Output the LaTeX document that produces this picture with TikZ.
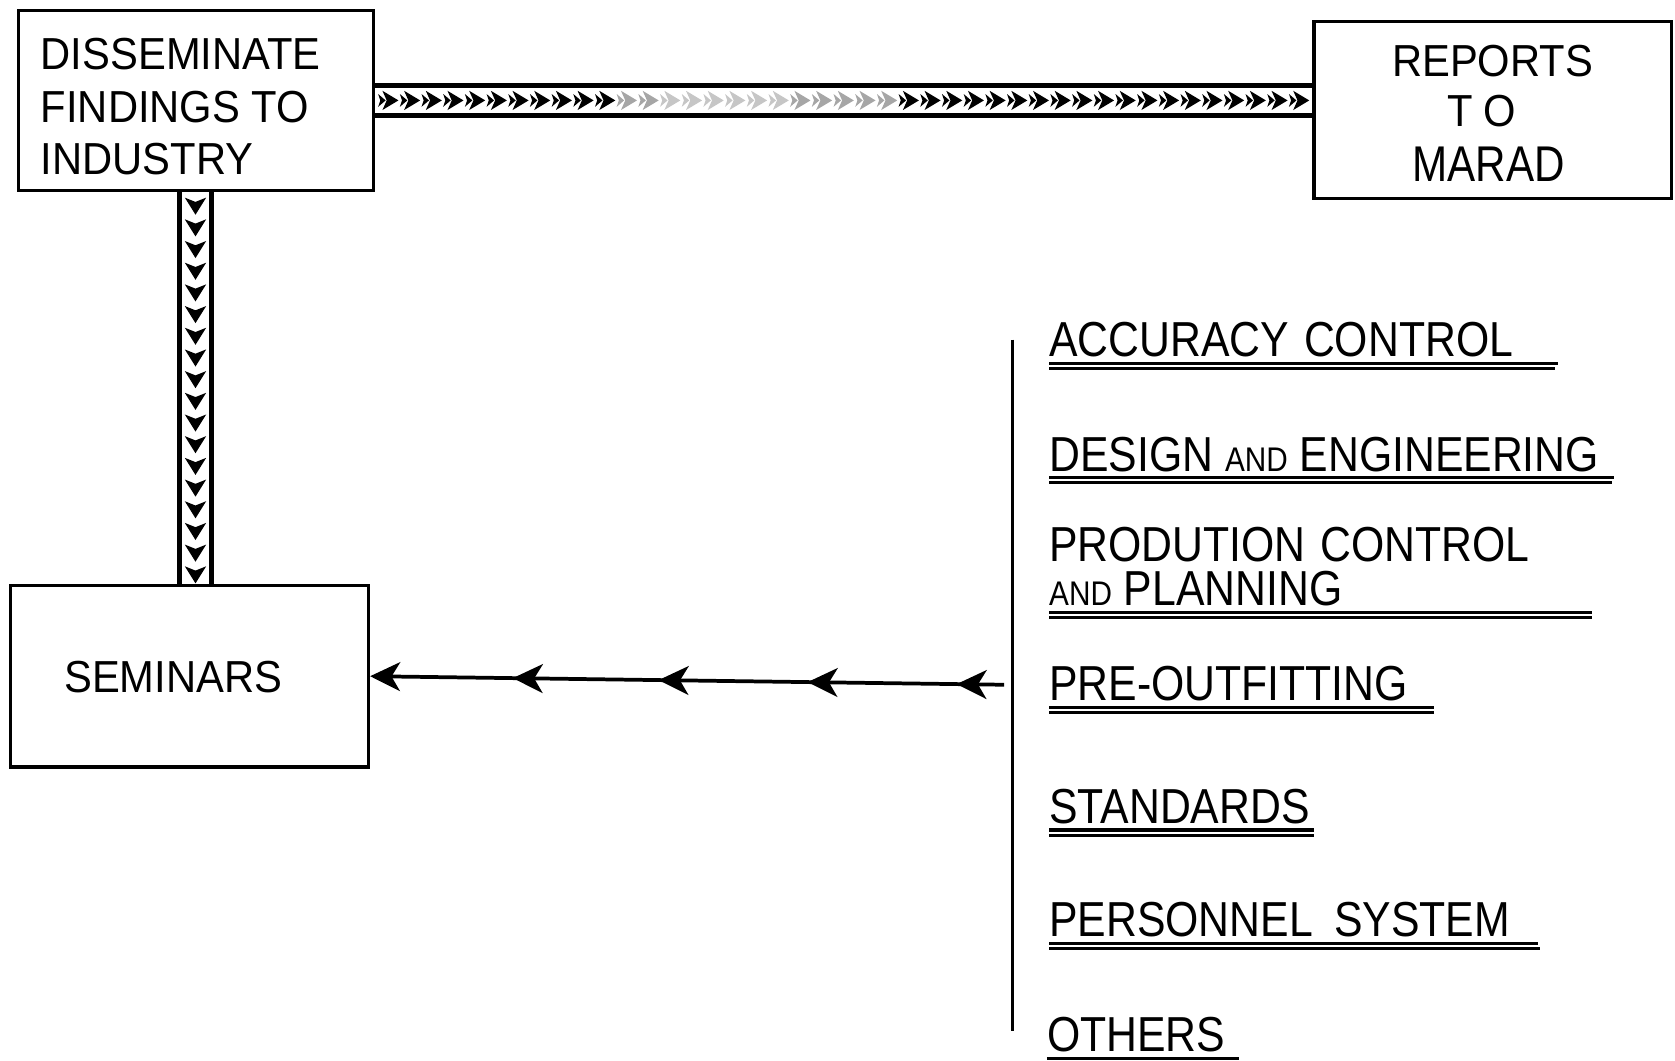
\documentclass[tikz,border=0pt]{standalone}
\usepackage{fontspec}
\setmainfont{Liberation Sans}
\newfontfamily\labfont[FakeStretch=0.87]{Liberation Sans}
\newfontfamily\marfont[FakeStretch=0.84]{Liberation Sans}
\newfontfamily\boxfont[FakeStretch=0.93]{Liberation Sans}
\usetikzlibrary{arrows.meta,decorations.markings}
\tikzset{
  semhead/.tip={Stealth[length=28pt,width=27pt,inset=8pt]},
  box/.style={draw,line width=3pt,inner sep=0pt,rectangle},
  boxtext/.style={inner sep=0pt,anchor=base west,font={\boxfont\fontsize{42}{48}\selectfont}},
  lab/.style={inner sep=0pt,anchor=base west,font={\labfont\fontsize{46}{50}\selectfont}},
  uline/.style={line width=3pt},
  bar/.style={line width=4pt},
  flow/.style={line width=3.5pt}
}
\newcommand{\smallcaps}[1]{{\fontsize{32}{35}\selectfont #1}}
\begin{document}
\begin{tikzpicture}[x=1pt,y=-1pt]
\useasboundingbox (0,0) rectangle (1568,993);

% boxes
\node[box,minimum width=333pt,minimum height=168pt] (diss) at (183.5,94) {};
\node[boxtext] (t1) at (38,65) {DISSEMINATE};
\node[boxtext] (t2) at (38,115) {FINDINGS TO};
\node[boxtext] (t3) at (38,163) {INDUSTRY};

\node[box,minimum width=335pt,minimum height=166pt] (rep) at (1397.5,103) {};
\node[boxtext] (r1) at (1303,72) {REPORTS};
\node[boxtext] (r2) at (1355,118) {T\hspace{10pt}O};
\node[lab,font={\marfont\fontsize{47}{50}\selectfont}] (r3) at (1322,170) {MARAD};

\node[box,minimum width=335pt,minimum height=170pt] (sem) at (177.5,633) {};
\node[boxtext] (s1) at (60,648) {SEMINARS};

% horizontal chevron bar
\coordinate (hbt) at (0,80);
\coordinate (hbb) at (0,108);
\draw[bar] (diss.east |- hbt) -- (rep.west |- hbt);
\draw[bar] (diss.east |- hbb) -- (rep.west |- hbb);
\tikzset{hchev/.pic={\fill (9,0) -- (-6,-9) -- (-2,0) -- (-6,9) -- cycle;
  \fill (-3,0) -- (-10,-6) -- (-8,0) -- (-10,6) -- cycle;}}
\foreach \i [evaluate=\i as \cx using 364+20.3*\i] in {0,...,10,24,25,...,42}
  \pic[black] at (\cx,94) {hchev};
\foreach \i [evaluate=\i as \cx using 364+20.3*\i] in {11,12,19,20,21,22,23}
  \pic[gray!70] at (\cx,94) {hchev};
\foreach \i [evaluate=\i as \cx using 364+20.3*\i] in {13,...,18}
  \pic[gray!45] at (\cx,94) {hchev};

% vertical chevron bar
\coordinate (vl) at (168,0);
\coordinate (vr) at (198,0);
\draw[bar] (vl |- diss.south) -- (vl |- sem.north);
\draw[bar] (vr |- diss.south) -- (vr |- sem.north);
\foreach \j [evaluate=\j as \cy using 192+20.3*\j] in {0,...,17}
  \fill (183,\cy+9) -- (173,\cy-7) -- (183,\cy-3) -- (193,\cy-7) -- cycle;

% flow to seminars
\coordinate (src) at (940,641);
\draw[flow,-semhead,postaction={decorate},
  decoration={markings,
    mark=at position 0.075 with {\arrow{semhead}},
    mark=at position 0.31 with {\arrow{semhead}},
    mark=at position 0.545 with {\arrow{semhead}},
    mark=at position 0.775 with {\arrow{semhead}}}]
  (src) -- (sem.east);

% vertical line
\coordinate (vt) at (948,318);
\coordinate (vb) at (948,965);
\draw[line width=3pt] (vt) -- (vb);

% labels
\node[lab] (l1) at (982,334) {ACCURACY\hspace{14pt}CONTROL};
\draw[uline] ([yshift=-6pt]l1.base west) -- ++(476,0);
\draw[uline] ([yshift=-11pt]l1.base west) -- ++(474,0);

\node[lab] (l2) at (982,441) {DESIGN \smallcaps{AND} ENGINEERING};
\draw[uline] ([yshift=-6pt]l2.base west) -- ++(529,0);
\draw[uline] ([yshift=-11pt]l2.base west) -- ++(527,0);

\node[lab,align=left,font={\labfont\fontsize{46}{41}\selectfont}] (l3) at (982,567)
  {PRODUTION\hspace{14pt}CONTROL\\\smallcaps{AND} PLANNING};
\draw[uline] (l3.south west |- 0,573) -- ++(508,0);
\draw[uline] (l3.south west |- 0,578) -- ++(508,0);

\node[lab] (l4) at (982,656) {PRE-OUTFITTING};
\draw[uline] ([yshift=-6pt]l4.base west) -- ++(360,0);
\draw[uline] ([yshift=-11pt]l4.base west) -- ++(360,0);

\node[lab] (l5) at (982,771) {STANDARDS};
\draw[uline] ([yshift=-6pt]l5.base west) -- ++(248,0);
\draw[uline] ([yshift=-11pt]l5.base west) -- ++(248,0);

\node[lab] (l6) at (982,877) {PERSONNEL\hspace{20pt}SYSTEM};
\draw[uline] ([yshift=-6pt]l6.base west) -- ++(458,0);
\draw[uline] ([yshift=-11pt]l6.base west) -- ++(460,0);

\node[lab] (l7) at (980,984) {OTHERS};
\draw[uline] ([yshift=-7pt]l7.base west) -- ++(180,0);
\end{tikzpicture}
\end{document}
